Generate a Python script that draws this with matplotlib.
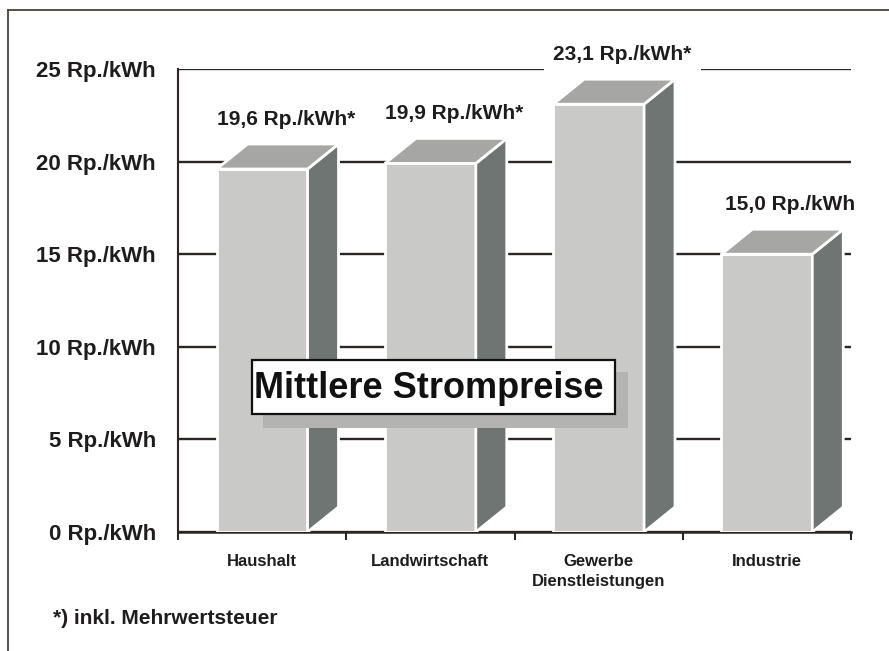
import matplotlib
matplotlib.use("Agg")
import matplotlib.pyplot as plt
from matplotlib.patches import Polygon, Rectangle
from matplotlib.lines import Line2D

# Mittlere Strompreise nach Kundengruppe
categories = ["Haushalt", "Landwirtschaft", "Gewerbe\nDienstleistungen", "Industrie"]
prices = [19.6, 19.9, 23.1, 15.0]
price_labels = ["19,6 Rp./kWh*", "19,9 Rp./kWh*", "23,1 Rp./kWh*", "15,0 Rp./kWh"]
y_ticks = [0, 5, 10, 15, 20, 25]
y_tick_labels = ["%d Rp./kWh" % v for v in y_ticks]

plt.rcParams['font.family'] = ['Liberation Sans', 'DejaVu Sans']
plt.rcParams['font.weight'] = 'bold'

front_col = '#c9c9c7'
top_col = '#a6a6a4'
side_col = '#6f7572'
line_col = '#2b2624'

fig = plt.figure(figsize=(8.89, 6.51), dpi=100)
fig.patch.set_facecolor('white')
ax = fig.add_axes([178/889, 1-532/651, 673/889, 463/651])

width = 0.54
dx = 0.184   # depth of the fake 3d bars (x)
dy = 1.35    # depth of the fake 3d bars (y)

x = list(range(len(categories)))
ax.bar(x, prices, width=width, color=front_col, edgecolor='white', linewidth=2, zorder=3)
for i, v in enumerate(prices):
    x0 = i - width/2
    x1 = i + width/2
    top = Polygon([(x0, v), (x0+dx, v+dy), (x1+dx, v+dy), (x1, v)], closed=True,
                  facecolor=top_col, edgecolor='white', linewidth=2, zorder=3)
    side = Polygon([(x1, 0), (x1+dx, dy), (x1+dx, v+dy), (x1, v)], closed=True,
                   facecolor=side_col, edgecolor='white', linewidth=2, zorder=3)
    ax.add_patch(side)
    ax.add_patch(top)
    ax.text(i + 0.14, v + 2.7, price_labels[i], ha='center', va='center', fontsize=15,
            fontweight='bold', color='#1e1c1c', zorder=5, clip_on=False,
            bbox=dict(boxstyle='square,pad=0.45', facecolor='white', edgecolor='none'))

ax.set_xlim(-0.5, 3.5)
ax.set_ylim(0, 25)
ax.set_yticks(y_ticks)
ax.set_yticklabels(y_tick_labels, fontsize=16, fontweight='bold', color='#1e1c1c')
ax.tick_params(axis='y', length=0, pad=16)
ax.yaxis.grid(True, color=line_col, linewidth=1.7)
ax.set_axisbelow(True)

# bin boundaries as major ticks, category names as minor tick labels
ax.set_xticks([-0.5, 0.5, 1.5, 2.5, 3.5])
ax.set_xticklabels([])
ax.set_xticks(x, minor=True)
ax.set_xticklabels(categories, minor=True, fontsize=12, fontweight='bold',
                   color='#1e1c1c', linespacing=1.4)
ax.tick_params(axis='x', which='major', length=6, width=1.5, color=line_col, direction='out')
ax.tick_params(axis='x', which='minor', length=0, pad=16)

for s in ['top', 'right']:
    ax.spines[s].set_visible(False)
ax.spines['left'].set_color(line_col)
ax.spines['bottom'].set_color(line_col)
ax.spines['left'].set_linewidth(1.5)
ax.spines['bottom'].set_linewidth(1.8)
ax.set_facecolor('none')

# title box with shadow
fig.add_artist(Rectangle((263/889, 1-428/651), 365/889, 56/651, transform=fig.transFigure,
                         facecolor='#b3b3b1', edgecolor='none', zorder=5))
fig.add_artist(Rectangle((252/889, 1-414/651), 363/889, 54/651, transform=fig.transFigure,
                         facecolor='white', edgecolor='#111111', linewidth=1.6, zorder=6))
fig.text(429/889, 1-388/651, "Mittlere Strompreise", ha='center', va='center',
         fontsize=26, fontweight='bold', color='#111111', zorder=7)

fig.text(53/889, 1-618/651, "*) inkl. Mehrwertsteuer", ha='left', va='center',
         fontsize=15, fontweight='bold', color='#1e1c1c')

# page frame (left and top edges)
fig.add_artist(Line2D([8/889, 8/889], [0, 1-10/651], transform=fig.transFigure,
                      color='#4a423c', linewidth=1.3))
fig.add_artist(Line2D([8/889, 1], [1-10/651, 1-10/651], transform=fig.transFigure,
                      color='#4a423c', linewidth=1.3))

fig.savefig("out.png", dpi=100)
